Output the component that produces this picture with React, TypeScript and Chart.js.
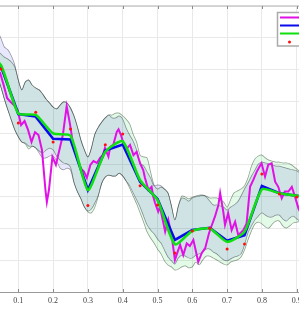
import React, { useEffect, useRef } from "react";
import { Chart, registerables } from "chart.js";
Chart.register(...registerables);

// ---- data ----
const X_MIN = 0.0474;
const X_MAX = 0.9066;
const X_TICKS = [0.1, 0.2, 0.3, 0.4, 0.5, 0.6, 0.7, 0.8, 0.9];
const Y_GRID = [0, 1, 2, 3, 4, 5, 6, 7, 8, 9];

const TRAIN_X = [0, 0.05, 0.1, 0.15, 0.2, 0.25, 0.3, 0.35, 0.4, 0.45, 0.5, 0.55, 0.6, 0.65, 0.7, 0.75, 0.8, 0.85, 0.9];
const TRAIN_Y = [7.9, 7.02, 5.32, 5.66, 4.72, 5.13, 2.72, 4.63, 4.97, 3.34, 2.74, 1.23, 1.92, 2.01, 1.35, 1.51, 3.71, 3.08, 2.99];

const MEAN_X = [0, 0.05, 0.1, 0.15, 0.2, 0.25, 0.3, 0.35, 0.4, 0.45, 0.5, 0.55, 0.6, 0.65, 0.7, 0.75, 0.8, 0.85, 0.9, 0.95];
const BLUE_Y = [7.61, 7.11, 5.6, 5.52, 4.82, 4.8, 3.21, 4.45, 4.64, 3.47, 2.93, 1.64, 1.95, 2.02, 1.61, 1.79, 3.34, 3.11, 3.03, 2.95];
const GREEN_Y = [7.61, 7.14, 5.62, 5.57, 4.99, 4.92, 3.21, 4.41, 4.74, 3.52, 2.89, 1.5, 1.92, 2.0, 1.58, 1.9, 3.23, 3.11, 3.03, 2.95];

const TRUE_X = [0, 0.02, 0.047, 0.058, 0.068, 0.078, 0.088, 0.098, 0.108, 0.118, 0.128, 0.138, 0.148, 0.158, 0.168, 0.178, 0.182, 0.188, 0.198, 0.208, 0.218, 0.228, 0.239, 0.249, 0.259, 0.269, 0.279, 0.289, 0.297, 0.307, 0.316, 0.326, 0.335, 0.343, 0.349, 0.359, 0.364, 0.373, 0.383, 0.388, 0.395, 0.402, 0.412, 0.421, 0.431, 0.44, 0.45, 0.459, 0.464, 0.474, 0.483, 0.488, 0.493, 0.502, 0.507, 0.517, 0.522, 0.531, 0.541, 0.55, 0.558, 0.565, 0.574, 0.584, 0.593, 0.603, 0.617, 0.627, 0.637, 0.648, 0.656, 0.665, 0.675, 0.68, 0.689, 0.694, 0.703, 0.713, 0.723, 0.732, 0.747, 0.756, 0.766, 0.775, 0.785, 0.793, 0.799, 0.809, 0.818, 0.828, 0.838, 0.847, 0.857, 0.866, 0.876, 0.886, 0.895, 0.905, 0.915];
const TRUE_Y = [7.9, 7.45, 6.92, 6.51, 6.1, 5.98, 5.88, 5.73, 5.25, 5.38, 5.1, 4.72, 5.03, 4.94, 4.47, 3.21, 2.83, 3.21, 4.25, 4.0, 4.47, 4.94, 5.85, 5.25, 4.53, 4.22, 3.9, 3.78, 3.59, 4.0, 4.12, 4.06, 4.22, 4.31, 4.53, 4.26, 4.57, 4.63, 5.04, 5.12, 4.94, 4.68, 4.52, 4.63, 4.31, 4.41, 4.05, 3.84, 3.59, 3.21, 3.31, 2.99, 2.8, 2.53, 2.68, 2.16, 1.9, 2.27, 1.74, 1.01, 1.27, 1.48, 1.16, 1.53, 1.45, 1.64, 0.95, 1.22, 1.38, 1.85, 2.1, 2.37, 2.74, 3.11, 2.53, 2.11, 2.48, 1.95, 2.21, 1.79, 1.95, 2.16, 3.31, 3.52, 3.78, 3.94, 4.05, 3.63, 4.0, 4.05, 3.47, 3.31, 2.95, 3.16, 3.16, 3.31, 3.0, 2.63, 2.4];

const BAND_X = [0.03, 0.04, 0.05, 0.06, 0.07, 0.08, 0.09, 0.1, 0.11, 0.12, 0.13, 0.14, 0.15, 0.16, 0.17, 0.18, 0.19, 0.2, 0.21, 0.22, 0.23, 0.24, 0.25, 0.26, 0.27, 0.28, 0.29, 0.3, 0.31, 0.32, 0.33, 0.34, 0.35, 0.36, 0.37, 0.38, 0.39, 0.4, 0.41, 0.42, 0.43, 0.44, 0.45, 0.46, 0.47, 0.48, 0.49, 0.5, 0.51, 0.52, 0.53, 0.54, 0.55, 0.56, 0.57, 0.58, 0.59, 0.6, 0.61, 0.62, 0.63, 0.64, 0.65, 0.66, 0.67, 0.68, 0.69, 0.7, 0.71, 0.72, 0.73, 0.74, 0.75, 0.76, 0.77, 0.78, 0.79, 0.8, 0.81, 0.82, 0.83, 0.84, 0.85, 0.86, 0.87, 0.88, 0.89, 0.9, 0.91, 0.92];
const LAV_UPPER = [8.4, 8.21, 7.99, 7.71, 7.62, 7.43, 7.14, 6.67, 6.36, 6.61, 6.67, 6.51, 6.42, 6.36, 6.23, 6.07, 5.95, 5.82, 5.76, 5.88, 5.98, 5.95, 5.79, 5.54, 5.19, 4.78, 4.47, 4.25, 4.53, 4.97, 5.19, 5.35, 5.48, 5.57, 5.48, 5.48, 5.54, 5.44, 5.16, 4.94, 4.75, 4.47, 4.06, 3.97, 3.78, 3.59, 3.34, 3.37, 3.34, 3.24, 3.12, 2.71, 2.27, 2.71, 2.96, 2.93, 2.86, 2.96, 2.99, 3.02, 3.05, 2.99, 2.86, 2.74, 2.74, 2.71, 2.67, 2.58, 2.67, 2.74, 2.83, 3.02, 3.24, 3.43, 3.65, 3.84, 4.03, 4.09, 4.06, 4.03, 4.0, 3.96, 3.96, 3.93, 3.9, 3.87, 3.84, 3.81, 3.74, 3.65];
const LAV_LOWER = [6.92, 6.73, 6.45, 6.07, 5.73, 5.41, 5.1, 4.88, 4.72, 4.69, 4.59, 4.59, 4.53, 4.37, 4.22, 4.22, 4.28, 4.28, 4.12, 3.9, 3.84, 3.9, 3.84, 3.43, 3.15, 2.93, 2.67, 2.55, 2.61, 2.8, 3.05, 3.43, 3.62, 3.68, 3.65, 3.65, 3.74, 3.65, 3.49, 3.34, 3.12, 2.9, 2.67, 2.39, 2.11, 1.95, 1.83, 1.67, 1.54, 1.32, 1.1, 0.98, 0.88, 1.07, 1.16, 1.13, 1.07, 1.07, 1.16, 1.2, 1.26, 1.35, 1.35, 1.26, 1.2, 1.1, 1.01, 0.98, 1.04, 1.1, 1.13, 1.2, 1.48, 1.86, 2.08, 2.27, 2.39, 2.49, 2.42, 2.36, 2.36, 2.42, 2.42, 2.3, 2.23, 2.33, 2.39, 2.3, 2.23, 2.17];
const GRN_UPPER = [7.68, 7.58, 7.49, 7.39, 7.33, 7.24, 7.08, 6.67, 6.36, 6.61, 6.67, 6.51, 6.42, 6.36, 6.23, 6.07, 5.95, 5.82, 5.76, 5.88, 5.98, 5.95, 5.79, 5.54, 5.19, 4.78, 4.47, 4.25, 4.53, 4.97, 5.19, 5.35, 5.48, 5.57, 5.57, 5.63, 5.63, 5.54, 5.44, 5.29, 4.97, 4.72, 4.31, 4.25, 4.22, 3.78, 3.37, 3.24, 3.3, 3.24, 3.12, 2.71, 2.27, 2.71, 3.02, 2.99, 2.93, 2.99, 3.02, 3.05, 3.05, 3.02, 2.96, 2.96, 2.96, 2.9, 2.83, 2.67, 2.9, 3.12, 3.18, 3.24, 3.34, 3.59, 3.96, 4.19, 4.28, 4.31, 4.22, 4.15, 4.12, 4.09, 4.09, 4.06, 4.06, 4.03, 3.96, 3.87, 3.78, 3.68];
const GRN_LOWER = [6.92, 6.73, 6.45, 6.07, 5.73, 5.41, 5.1, 4.88, 4.72, 4.66, 4.5, 4.59, 4.53, 4.44, 4.37, 4.47, 4.53, 4.47, 4.28, 4.15, 4.06, 4.03, 3.93, 3.46, 3.15, 2.93, 2.67, 2.52, 2.49, 2.67, 3.02, 3.43, 3.62, 3.68, 3.65, 3.65, 3.74, 3.65, 3.49, 3.27, 3.02, 2.77, 2.49, 2.2, 1.89, 1.7, 1.54, 1.35, 1.2, 0.98, 0.85, 0.79, 0.69, 0.72, 0.79, 0.82, 0.76, 0.79, 0.94, 0.85, 1.01, 1.13, 1.13, 1.07, 1.01, 0.94, 0.88, 0.85, 0.94, 0.98, 1.01, 1.1, 1.32, 1.64, 1.92, 2.14, 2.2, 2.14, 2.05, 2.01, 2.14, 2.23, 2.23, 2.08, 2.01, 2.08, 2.17, 2.2, 2.2, 2.17];

const LEGEND_ORDER = [3, 2, 1, 0];
const LAST_BAND_INDEX = 4; // the last band dataset to be drawn

const toPts = (xs: number[], ys: number[]) => xs.map((x, i) => ({ x, y: ys[i] }));

// bands are blended with "multiply" so their overlap gets the mixed tint
const blendPlugin = {
  id: "bandBlend",
  beforeDatasetsDraw(chart: any) {
    chart.ctx.globalCompositeOperation = "multiply";
  },
  afterDatasetDraw(chart: any, args: any) {
    if (args.index === LAST_BAND_INDEX) chart.ctx.globalCompositeOperation = "source-over";
  },
  afterDatasetsDraw(chart: any) {
    chart.ctx.globalCompositeOperation = "source-over";
  },
};

const framePlugin = {
  id: "matlabFrame",
  afterDraw(chart: any) {
    const { ctx, chartArea: a } = chart;
    const xs = chart.scales.x;
    ctx.save();
    ctx.strokeStyle = "#c8c8c8";
    ctx.lineWidth = 1.5;
    ctx.beginPath();
    ctx.moveTo(a.left, a.top);
    ctx.lineTo(a.right, a.top);
    ctx.stroke();
    ctx.strokeStyle = "#8a8a8a";
    ctx.lineWidth = 1;
    xs.ticks.forEach((t: any) => {
      const px = Math.round(xs.getPixelForValue(t.value)) + 0.5;
      ctx.beginPath();
      ctx.moveTo(px, a.top);
      ctx.lineTo(px, a.top + 3);
      ctx.moveTo(px, a.bottom);
      ctx.lineTo(px, a.bottom - 3);
      ctx.stroke();
    });
    const bx = a.right - 21.5;
    const by = a.top + 6.5;
    ctx.fillStyle = "#ffffff";
    ctx.fillRect(bx, by, 60, 33.5);
    ctx.strokeStyle = "#aaaaaa";
    ctx.lineWidth = 1.5;
    ctx.strokeRect(bx, by, 60, 33.5);
    LEGEND_ORDER.forEach((idx, k) => {
      const ds = chart.data.datasets[idx];
      const y = by + 5 + k * 8;
      if (ds.showLine === false) {
        ctx.fillStyle = ds.pointBackgroundColor;
        ctx.beginPath();
        ctx.arc(bx + 12, y + 0.5, 1.5, 0, Math.PI * 2);
        ctx.fill();
      } else {
        ctx.strokeStyle = ds.borderColor;
        ctx.lineWidth = 2;
        ctx.beginPath();
        ctx.moveTo(bx + 2.5, y);
        ctx.lineTo(bx + 40, y);
        ctx.stroke();
      }
    });
    ctx.restore();
  },
};

export default function App() {
  const ref = useRef<HTMLCanvasElement>(null);
  useEffect(() => {
    const canvas = ref.current;
    if (!canvas) return;
    const lavEdge = "rgba(105,105,120,0.7)";
    const grnEdge = "rgba(95,115,95,0.7)";
    const chart = new Chart(canvas, {
      type: "line",
      data: {
        datasets: [
          {
            label: "training data",
            data: toPts(TRAIN_X, TRAIN_Y),
            showLine: false,
            pointRadius: 1.5,
            pointBorderWidth: 0,
            pointBackgroundColor: "#ff1010",
            borderColor: "#ff1010",
            borderWidth: 0,
            order: 0,
          },
          {
            label: "prediction 2",
            data: toPts(MEAN_X, GREEN_Y),
            borderColor: "#10e010",
            borderWidth: 2.6,
            pointRadius: 0,
            tension: 0.2,
            fill: false,
            order: 1,
          },
          {
            label: "prediction 1",
            data: toPts(MEAN_X, BLUE_Y),
            borderColor: "#0a0aee",
            borderWidth: 2.6,
            pointRadius: 0,
            fill: false,
            order: 2,
          },
          {
            label: "true function",
            data: toPts(TRUE_X, TRUE_Y),
            borderColor: "#e010e6",
            borderWidth: 2,
            pointRadius: 0,
            fill: false,
            order: 3,
          },
          {
            label: "band 1 upper",
            data: toPts(BAND_X, LAV_UPPER),
            borderColor: lavEdge,
            borderWidth: 0.75,
            backgroundColor: "rgb(232,232,252)",
            pointRadius: 0,
            tension: 0.3,
            fill: "+1",
            order: 4,
          },
          {
            label: "band 1 lower",
            data: toPts(BAND_X, LAV_LOWER),
            borderColor: lavEdge,
            borderWidth: 0.75,
            pointRadius: 0,
            tension: 0.3,
            fill: false,
            order: 4,
          },
          {
            label: "band 2 upper",
            data: toPts(BAND_X, GRN_UPPER),
            borderColor: grnEdge,
            borderWidth: 0.75,
            backgroundColor: "rgb(228,250,232)",
            pointRadius: 0,
            tension: 0.3,
            fill: "+1",
            order: 5,
          },
          {
            label: "band 2 lower",
            data: toPts(BAND_X, GRN_LOWER),
            borderColor: grnEdge,
            borderWidth: 0.75,
            pointRadius: 0,
            tension: 0.3,
            fill: false,
            order: 5,
          },
        ],
      },
      options: {
        animation: false,
        responsive: false,
        devicePixelRatio: 1,
        layout: { autoPadding: false, padding: { top: 6, left: 0, right: 0, bottom: 0 } },
        plugins: {
          legend: { display: false },
          tooltip: { enabled: false },
        },
        scales: {
          x: {
            type: "linear",
            min: X_MIN,
            max: X_MAX,
            afterBuildTicks: (s: any) => {
              s.ticks = X_TICKS.map((v) => ({ value: v }));
            },
            afterFit: (s: any) => {
              s.height = 20;
              s.paddingLeft = 0;
              s.paddingRight = 0;
            },
            grid: { color: "#e9e9e9", drawTicks: false },
            border: { color: "#9a9a9a", width: 1 },
            ticks: {
              padding: 4,
              maxRotation: 0,
              autoSkip: false,
              color: "#404040",
              font: { family: "'Liberation Serif', 'Times New Roman', serif", size: 8 },
              callback: (v: any) => Number(v).toFixed(1),
            },
          },
          y: {
            type: "linear",
            min: 0,
            max: 9,
            afterBuildTicks: (s: any) => {
              s.ticks = Y_GRID.map((v) => ({ value: v }));
            },
            afterFit: (s: any) => {
              s.width = 0;
            },
            ticks: { display: false },
            grid: { color: "#e9e9e9", drawTicks: false },
            border: { display: false },
          },
        },
      },
      plugins: [blendPlugin, framePlugin],
    });
    return () => chart.destroy();
  }, []);
  return (
    <div style={{ position: "fixed", left: 0, top: 0, width: 299, height: 312, background: "#ffffff" }}>
      <canvas ref={ref} width={299} height={312} style={{ display: "block", width: 299, height: 312 }} />
    </div>
  );
}
